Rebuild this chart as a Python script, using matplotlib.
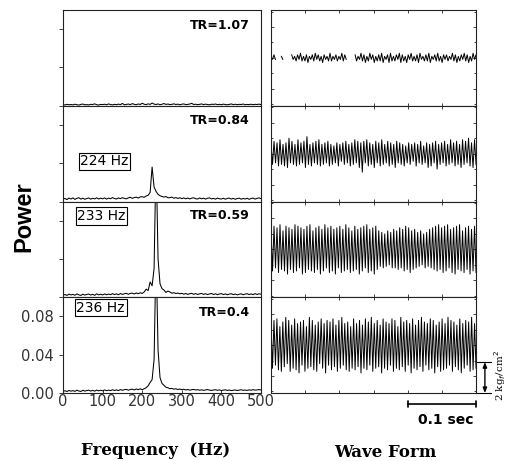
import numpy as np
import matplotlib.pyplot as plt
from matplotlib.ticker import MultipleLocator
from matplotlib.transforms import blended_transform_factory

plt.rcParams['font.family'] = 'DejaVu Sans'
nan = np.nan

# ---- spectra, power in units of 1e-3, sampled every 5 Hz from 0 to 500 Hz ----
spec_tr107 = [1.2, 0.8, 1.5, 1.0, 1.3, 0.9, 1.6, 1.1, 0.7, 1.4, 1.8, 1.0, 1.2, 0.9, 1.5, 1.3, 2.0, 1.1, 0.8, 1.4,
              1.2, 1.6, 1.0, 1.9, 1.3, 0.9, 1.5, 1.1, 1.7, 1.2, 2.4, 1.0, 1.4, 1.8, 1.2, 2.2, 1.5, 1.1, 1.9, 1.3,
              2.6, 1.6, 1.2, 2.0, 1.4, 2.8, 1.7, 1.3, 1.9, 1.1, 1.6, 2.3, 1.4, 1.8, 1.2, 1.5, 2.0, 1.3, 1.7, 1.0,
              1.6, 1.9, 1.2, 1.4, 1.8, 2.5, 1.3, 1.6, 1.1, 1.5, 1.9, 1.2, 1.7, 1.3, 1.0, 1.6, 1.4, 1.8, 1.2, 1.5,
              1.1, 1.7, 1.3, 1.0, 1.4, 1.9, 1.2, 1.6, 1.1, 1.5, 1.3, 1.8, 1.0, 1.4, 1.2, 1.6, 1.1, 1.5, 1.3, 1.7, 1.2]
spec_tr084 = [2.5, 3.2, 2.0, 3.6, 2.6, 3.8, 2.2, 3.3, 4.0, 2.5, 3.5, 2.3, 3.2, 3.7, 2.4, 3.4, 2.7, 3.9, 2.6, 3.5,
              2.8, 3.8, 2.5, 3.6, 2.9, 4.1, 3.1, 2.6, 3.7, 3.0, 4.0, 3.2, 2.8, 3.8, 4.4, 3.3, 4.1, 4.6, 3.6, 4.8,
              5.0, 4.4, 5.7, 6.5, 9.5, 36.0, 15.0, 10.5, 7.5, 6.0,
              5.2, 4.6, 5.2, 3.9, 4.0, 4.6, 3.4, 4.1, 3.2, 3.9,
              3.0, 3.8, 2.8, 3.6, 2.7, 3.5, 3.9, 2.9, 2.6, 3.7, 2.8, 3.5, 2.5, 3.4, 3.8, 2.7, 3.3, 2.4, 3.6, 2.8,
              2.6, 3.4, 2.4, 3.2, 3.6, 2.5, 3.3, 2.3, 3.1, 3.5, 2.4, 3.2, 2.6, 3.4, 2.3, 3.1, 3.6, 2.5, 3.3, 3.8, 3.0]
spec_tr059 = [2.2, 2.9, 1.9, 3.3, 2.4, 3.0, 2.1, 3.5, 2.5, 1.9, 3.2, 2.3, 2.9, 3.4, 2.3, 3.1, 2.0, 3.6, 2.5, 3.2,
              2.4, 3.5, 2.6, 3.3, 2.7, 3.8, 2.8, 3.6, 2.6, 3.9, 3.0, 3.7, 4.1, 3.1, 4.0, 4.3, 3.4, 4.5, 3.7, 4.7,
              4.0, 5.5, 8.5, 7.0, 16.0, 12.0, 30.0, 150.0, 40.0, 14.0,
              9.0, 7.5, 5.0, 6.5, 5.5, 4.2, 4.8, 3.9, 4.4, 3.6,
              4.1, 3.2, 3.9, 3.0, 3.7, 4.1, 3.1, 3.8, 2.9, 3.6, 4.0, 3.0, 3.7, 2.8, 3.5, 3.9, 2.9, 3.6, 2.7, 3.4,
              3.8, 2.8, 3.5, 2.6, 3.3, 3.7, 2.7, 3.4, 2.5, 3.2, 3.6, 2.6, 3.3, 3.7, 2.8, 3.5, 2.7, 3.8, 2.9, 3.6, 3.2]
spec_tr040 = [1.8, 2.4, 1.5, 2.7, 1.9, 2.5, 1.7, 2.9, 2.1, 1.6, 2.8, 2.0, 2.5, 3.0, 2.0, 2.8, 1.9, 3.1, 2.2, 2.9,
              2.3, 3.2, 2.4, 3.0, 2.5, 3.4, 2.6, 3.3, 2.5, 3.6, 2.8, 3.5, 3.8, 2.9, 3.7, 4.0, 3.2, 4.2, 3.5, 4.4,
              3.5, 4.5, 5.5, 7.5, 11.0, 14.0, 35.0, 150.0, 45.0, 16.0,
              10.0, 8.0, 6.0, 5.5, 4.5, 4.8, 4.0, 4.4, 3.7, 4.1,
              3.5, 3.9, 3.2, 3.6, 3.0, 3.4, 3.8, 3.1, 3.5, 2.9, 3.3, 2.8, 3.2, 3.6, 3.0, 2.7, 3.1, 3.4, 2.8, 3.2,
              2.6, 3.0, 3.3, 2.7, 3.1, 2.5, 2.9, 3.2, 2.6, 3.0, 3.4, 2.8, 3.1, 2.7, 3.3, 2.9, 3.5, 3.0, 3.2, 3.6, 3.1]

# ---- pressure wave forms, successive extremes in 0.1 kgf/cm^2 over 0.3 s ----
wave_tr107 = [1, -1, 2, -1, nan, nan, nan, 1, -1, nan, nan, nan, nan, nan,
              2, -1, 1, -2, 2, -1, 3, -2, 1, -2, 2, -3, 1, -1, 2, -2, 3, -1, 2, -2, 1, -3, 2, -1, 1, -2, 3, -2,
              1, -1, 2, -2, 1, -1, 3, -2, 2, -1,
              nan, nan, nan, nan, nan,
              2, -2, 1, -1, 3, -2, 2, -3, 1, -2, 3, -1, 2, -3, 1, -2, 2, -2, 3, -3, 1, -1, 2, -3, 3, -2, 1, -2,
              2, -1, 3, -3, 2, -2, 1, -3, 2, -1, 3, -2, 1, -2, 2, -3, 3, -1, 1, -2, 2, -2, 3, -3, 1, -1, 2, -2,
              3, -2, 1, -3, 2, -1, 2, -2, 1, -1, 3, -2, 2, -3, 1, -2, 2, -1, 3, -2, 2, -3, 1, -2, 3, -1, 2]
wave_tr084 = [6, -7, 8, -6, 7, -8, 9, -7, 6, -8, 7, -9, 10, -6, 8, -7, 6, -8, 9, -7, 7, -6, 8, -9, 11, -7, 6, -8,
              7, -6, 8, -7, 9, -8, 6, -7, 7, -6, 8, -8, 6, -7, 5, -6, 7, -8, 6, -5, 7, -7, 8, -6, 6, -8, 7, -7,
              9, -6, 8, -9, 7, -12, 8, -6, 9, -8, 7, -7, 6, -9, 8, -6, 7, -8, 9, -7, 6, -6, 8, -8, 7, -7, 6, -9,
              8, -6, 7, -7, 6, -8, 5, -6, 7, -7, 6, -5, 7, -8, 6, -6, 8, -7, 5, -6, 7, -9, 6, -8, 7, -6, 8, -10,
              6, -7, 7, -6, 8, -8, 6, -7, 9, -6, 7, -8, 8, -7, 6, -9, 9, -7, 8, -6, 10, -8, 7, -9, 9, -7]
wave_tr059 = [13, -14, 15, -12, 14, -15, 16, -13, 12, -14, 15, -16, 14, -13, 13, -15, 16, -14, 15, -12, 14, -16,
              13, -15, 15, -13, 16, -14, 12, -15, 14, -13, 15, -16, 13, -14, 16, -12, 14, -15, 15, -14, 13, -16,
              14, -12, 15, -15, 13, -14, 16, -13, 14, -15, 12, -14, 15, -13, 13, -16, 14, -14, 15, -12, 16, -15,
              13, -14, 14, -16, 15, -13, 12, -11, 11, -12, 10, -11, 12, -10, 11, -12, 13, -12, 12, -13, 14, -12,
              13, -14, 15, -13, 14, -15, 12, -13, 13, -12, 11, -11, 12, -10, 10, -12, 11, -11, 13, -12, 14, -13,
              15, -14, 16, -13, 14, -15, 15, -14, 16, -12, 13, -15, 14, -16, 15, -13, 16, -14, 12, -15, 14, -13,
              15, -16, 13, -14, 15, -15]
wave_tr040 = [14, -15, 16, -13, 17, -16, 12, -17, 15, -14, 18, -12, 16, -17, 13, -15, 17, -16, 14, -18, 15, -13,
              16, -17, 12, -15, 18, -14, 16, -16, 13, -17, 15, -12, 17, -15, 14, -18, 16, -13, 15, -16, 17, -14,
              13, -17, 16, -15, 18, -13, 14, -16, 15, -17, 12, -15, 17, -16, 14, -14, 16, -18, 13, -15, 17, -16,
              15, -13, 18, -17, 14, -15, 16, -14, 13, -18, 17, -15, 15, -16, 14, -13, 17, -17, 16, -15, 12, -16,
              18, -14, 15, -17, 16, -13, 14, -18, 17, -15, 13, -16, 16, -14, 18, -17, 15, -13, 14, -16, 17, -15,
              16, -18, 13, -14, 15, -17, 17, -16, 14, -15, 18, -13, 16, -17, 15, -14, 13, -16, 17, -18, 14, -15,
              16, -13, 15, -17, 18, -16, 14, -15]

tr_labels = ['TR=1.07', 'TR=0.84', 'TR=0.59', 'TR=0.4']
peak_labels = [None, '224 Hz', '233 Hz', '236 Hz']
spectra = [spec_tr107, spec_tr084, spec_tr059, spec_tr040]
waves = [wave_tr107, wave_tr084, wave_tr059, wave_tr040]

# label positions (axes fraction) per row
peak_pos = [None, (0.21, 0.42), (0.195, 0.85), (0.19, 0.89)]
tr_y = [0.84, 0.85, 0.85, 0.84]

fig = plt.figure(figsize=(5.19, 4.61), dpi=100)
row_h = 0.2077
base = 0.1475
spine_c = '#222222'

for k in range(4):
    b = base + (3 - k) * row_h
    # spectrum panel
    ax = fig.add_axes([0.1214, b, 0.3815, row_h])
    p = np.array(spectra[k]) * 1e-3
    f = np.linspace(0, 500, len(p))
    ax.plot(f, p, color='black', lw=0.75)
    ax.set_xlim(0, 500)
    ax.set_ylim(0, 0.1)
    ax.set_yticks([0, 0.04, 0.08])
    ax.tick_params(axis='y', direction='out', length=3, width=0.6, colors=spine_c, labelsize=10.5,
                   labelcolor='#333333')
    for s in ax.spines.values():
        s.set_linewidth(0.8)
        s.set_color(spine_c)
    if k == 3:
        ax.set_xticks([0, 100, 200, 300, 400, 500])
        ax.set_yticklabels(['0.00', '0.04', '0.08'])
        ax.tick_params(axis='x', direction='in', length=2, width=0.6, colors=spine_c, labelsize=10.5,
                       labelcolor='#333333', pad=1)
    else:
        ax.set_xticks([])
        ax.set_yticklabels([])
    ax.text(0.945, tr_y[k], tr_labels[k], transform=ax.transAxes, ha='right', va='center',
            fontsize=9, fontweight='bold')
    if peak_labels[k]:
        x0, y0 = peak_pos[k]
        ax.text(x0, y0, peak_labels[k], transform=ax.transAxes, ha='center', va='center', fontsize=10,
                bbox=dict(boxstyle='square,pad=0.12', fc='white', ec='black', lw=0.8))

    # wave form panel
    aw = fig.add_axes([0.5222, b, 0.395, row_h])
    w = np.array(waves[k], dtype=float) * 0.1
    t = np.linspace(0, 0.3, len(w))
    aw.plot(t, w, color='black', lw=0.7)
    aw.set_xlim(0, 0.3)
    aw.set_ylim(-3.1, 3.1)
    aw.xaxis.set_major_locator(MultipleLocator(0.05))
    aw.yaxis.set_major_locator(MultipleLocator(2))
    aw.yaxis.set_minor_locator(MultipleLocator(1))
    aw.tick_params(which='both', direction='in', top=True, right=True, length=2, width=0.6,
                   colors=spine_c, labelbottom=False, labelleft=False)
    aw.tick_params(which='minor', length=1.2)
    for s in aw.spines.values():
        s.set_linewidth(0.8)
        s.set_color(spine_c)

    if k == 3:
        # horizontal 0.1 s scale bar
        tr = blended_transform_factory(aw.transData, aw.transAxes)
        aw.annotate('', xy=(0.2, -0.115), xytext=(0.3, -0.115), xycoords=tr, textcoords=tr,
                    arrowprops=dict(arrowstyle='|-|,widthA=0.25,widthB=0.25', color='black', lw=1.2,
                                    shrinkA=0, shrinkB=0), annotation_clip=False)
        aw.text(0.255, -0.28, '0.1 sec', transform=tr, ha='center', va='center', fontsize=10,
                fontweight='bold')
        # vertical 2 kgf/cm^2 scale bar
        aw.plot([0.3, 0.322], [-1.1, -1.1], color='black', lw=0.8, clip_on=False)
        aw.plot([0.3, 0.322], [-3.1, -3.1], color='black', lw=0.8, clip_on=False)
        aw.annotate('', xy=(0.313, -1.1), xytext=(0.313, -3.1),
                    arrowprops=dict(arrowstyle='<|-|>,head_length=0.3,head_width=0.12', color='black',
                                    lw=1.0, shrinkA=0, shrinkB=0), annotation_clip=False)
        aw.text(0.335, -2.0, r'2 kg$_f$/cm$^2$', ha='center', va='center', rotation=90,
                fontsize=7.5, family='DejaVu Serif')

fig.text(0.046, 0.531, 'Power', rotation=90, ha='center', va='center', fontsize=17,
         fontweight='bold', family='Liberation Sans')
fig.text(0.299, 0.022, 'Frequency  (Hz)', ha='center', va='center', fontsize=12,
         fontweight='bold', family='DejaVu Serif')
fig.text(0.742, 0.018, 'Wave Form', ha='center', va='center', fontsize=12,
         fontweight='bold', family='DejaVu Serif')

fig.savefig('out.png', dpi=100)
